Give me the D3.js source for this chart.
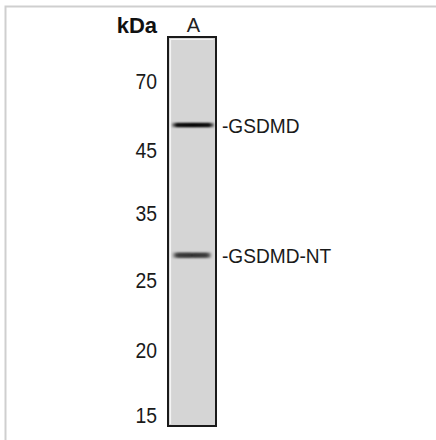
<!DOCTYPE html>
<html><head><meta charset="utf-8">
<script src="https://cdn.jsdelivr.net/npm/d3@7"></script>
<style>html,body{margin:0;padding:0;background:#fff;}svg{display:block;}</style>
</head><body>
<svg id="chart" width="436" height="440"></svg>
<script>
// Marker ladder (kDa) and their relative migration (fraction of lane length)
const markerKDa = [70, 45, 35, 25, 20, 15];
const markerRf  = [0.118, 0.296, 0.458, 0.630, 0.810, 0.977];
// Lanes
const laneNames = ["A"];
// Detected bands
const bandLabels = ["GSDMD", "GSDMD-NT"];
const bandKDa = [53.5, 28.6];
const bandIntensity = [1.0, 0.8];

const svg = d3.select("#chart");
const lane = {x0: 168, x1: 216, top: 37, bottom: 426};
const FONT = "Liberation Sans, Arial, sans-serif";

// frame
svg.append("path").attr("d", `M5.5,440 V6.5 H436`).attr("fill","none")
  .attr("stroke","#cfcfcf").attr("stroke-width",2);

// scales
const rfScale = d3.scaleLinear().domain([0,1]).range([lane.top, lane.bottom]);
const kdaToRf = d3.scaleLog().domain(markerKDa).range(markerRf);
const x = d3.scaleBand().domain(laneNames).range([lane.x0, lane.x1]).padding(0);

const defs = svg.append("defs");
defs.append("filter").attr("id","blurA").attr("x","-20%").attr("y","-200%").attr("width","140%").attr("height","500%")
  .append("feGaussianBlur").attr("stdDeviation","1.2 0.8");
defs.append("filter").attr("id","blurB").attr("x","-20%").attr("y","-200%").attr("width","140%").attr("height","500%")
  .append("feGaussianBlur").attr("stdDeviation","1.4 1.1");
const grad = defs.append("linearGradient").attr("id","fadeX").attr("x1","0").attr("x2","1");
[[0,0.35],[0.12,0.9],[0.5,1],[0.88,0.9],[1,0.4]].forEach(([o,a])=>
  grad.append("stop").attr("offset",o).attr("stop-color","#000").attr("stop-opacity",a));

// lane
laneNames.forEach(n=>{
  const lx = x(n), lw = x.bandwidth();
  svg.append("rect").attr("x",lx).attr("y",lane.top).attr("width",lw).attr("height",lane.bottom-lane.top)
    .attr("fill","#d5d5d5").attr("stroke","#1a1a1a").attr("stroke-width",2);
  svg.append("path").attr("d",`M${lx+2.5},${lane.bottom-2} V${lane.top+2.5} H${lx+lw-2.5}`)
    .attr("fill","none").attr("stroke","#f4f4f4").attr("stroke-width",1.2);
  svg.append("text").attr("x",lx+lw/2+1.5).attr("y",32).attr("text-anchor","middle")
    .attr("font-family",FONT).attr("font-size",20).attr("fill","#222").text(n);
});

// bands
bandKDa.forEach((k,i)=>{
  const y = rfScale(kdaToRf(k));
  const lx = x(laneNames[0]), lw = x.bandwidth();
  const g = svg.append("g").attr("opacity", bandIntensity[i]);
  if (i===0) {
    g.append("rect").attr("x",lx+4).attr("y",y-2).attr("width",lw-6).attr("height",4)
      .attr("fill","url(#fadeX)").attr("filter","url(#blurA)");
    g.append("rect").attr("x",lx+8).attr("y",y-1.2).attr("width",lw-14).attr("height",2.4)
      .attr("fill","#000").attr("opacity",0.75).attr("filter","url(#blurA)");
  } else {
    g.append("rect").attr("x",lx+5).attr("y",y-2.6).attr("width",lw-10).attr("height",5)
      .attr("fill","url(#fadeX)").attr("filter","url(#blurB)");
    g.append("rect").attr("x",lx+9).attr("y",y-1.8).attr("width",lw/2-10).attr("height",3.4)
      .attr("fill","#111").attr("opacity",0.6).attr("filter","url(#blurB)");
    g.append("rect").attr("x",lx+lw/2+1).attr("y",y-1.6).attr("width",lw/2-9).attr("height",3)
      .attr("fill","#111").attr("opacity",0.45).attr("filter","url(#blurB)");
  }
  svg.append("text").attr("x",222).attr("y",y+2.5).attr("dominant-baseline","middle")
    .attr("font-family",FONT).attr("font-size",21)
    .attr("fill","#1a1a1a").attr("transform",`translate(222,0) scale(0.91,1) translate(-222,0)`)
    .text("-" + bandLabels[i]);
});

// marker labels
svg.selectAll("text.mk").data(markerKDa).join("text").attr("class","mk")
  .attr("x",157).attr("y",d=>rfScale(kdaToRf(d))).attr("dominant-baseline","middle")
  .attr("text-anchor","end").attr("font-family",FONT)
  .attr("transform",`translate(157,0) scale(0.88,1) translate(-157,0)`)
  .attr("font-size",22).attr("fill","#1a1a1a").text(d=>d);

// unit label
svg.append("text").attr("x",157).attr("y",33).attr("text-anchor","end")
  .attr("font-family",FONT).attr("font-weight","bold")
  .attr("font-size",22).attr("fill","#111").text("kDa");
</script>
</body></html>
